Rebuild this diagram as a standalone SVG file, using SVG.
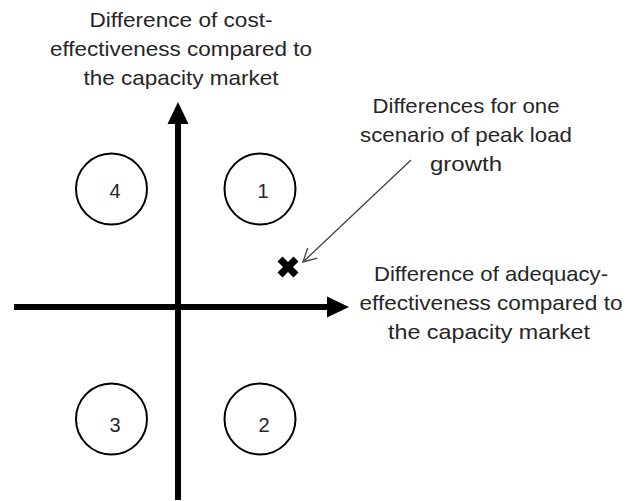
<svg xmlns="http://www.w3.org/2000/svg" width="627" height="501" viewBox="0 0 627 501">
<style>
  text { font-family: "Liberation Sans", Arial, sans-serif; fill: #262626; }
  .lbl { font-size: 21px; text-anchor: middle; }
  .num { font-size: 20px; text-anchor: middle; }
  .quad { fill: none; stroke: #000; stroke-width: 2; }
  .axis { stroke: #000; stroke-width: 6; fill: none; }
  .head { fill: #000; stroke: none; }
  .ptr { stroke: #404040; stroke-width: 1.3; fill: none; }
</style>
<defs>
  <marker id="openArrow" markerWidth="16" markerHeight="16" refX="14" refY="8" orient="auto" markerUnits="userSpaceOnUse">
    <path d="M1,1 L14,8 L1,15" fill="none" stroke="#404040" stroke-width="1.3"/>
  </marker>
</defs>
<rect width="627" height="501" fill="#fff"/>
<g id="connectors">
  <line class="axis" x1="178" y1="500" x2="178" y2="118"/>
  <polygon class="head" points="178,102 167.5,124 188.5,124"/>
  <line class="axis" x1="14" y1="307" x2="332" y2="307"/>
  <polygon class="head" points="349,307 327,296.5 327,317.5"/>
  <line class="ptr" x1="411" y1="160" x2="303" y2="262" marker-end="url(#openArrow)"/>
</g>
<g id="y-axis-label">
  <text class="lbl" x="181" y="27" textLength="183" lengthAdjust="spacingAndGlyphs">Difference of cost-</text>
  <text class="lbl" x="181" y="56" textLength="262" lengthAdjust="spacingAndGlyphs">effectiveness compared to</text>
  <text class="lbl" x="181" y="85" textLength="195" lengthAdjust="spacingAndGlyphs">the capacity market</text>
</g>
<g id="x-axis-label">
  <text class="lbl" x="491" y="281" textLength="234" lengthAdjust="spacingAndGlyphs">Difference of adequacy-</text>
  <text class="lbl" x="491" y="310" textLength="263" lengthAdjust="spacingAndGlyphs">effectiveness compared to</text>
  <text class="lbl" x="489" y="339" textLength="202" lengthAdjust="spacingAndGlyphs">the capacity market</text>
</g>
<g id="scenario-label">
  <text class="lbl" x="466" y="113" textLength="187" lengthAdjust="spacingAndGlyphs">Differences for one</text>
  <text class="lbl" x="466" y="142" textLength="212" lengthAdjust="spacingAndGlyphs">scenario of peak load</text>
  <text class="lbl" x="466" y="171" textLength="72" lengthAdjust="spacingAndGlyphs">growth</text>
</g>
<g id="quadrant-1">
  <circle class="quad" cx="260" cy="189" r="35.5"/>
  <text class="num" x="263" y="198">1</text>
</g>
<g id="quadrant-2">
  <circle class="quad" cx="260" cy="419" r="35.5"/>
  <text class="num" x="264" y="432">2</text>
</g>
<g id="quadrant-3">
  <circle class="quad" cx="111.5" cy="419" r="35.5"/>
  <text class="num" x="115" y="432">3</text>
</g>
<g id="quadrant-4">
  <circle class="quad" cx="111.5" cy="189" r="35.5"/>
  <text class="num" x="115" y="198">4</text>
</g>
<g id="scenario-point">
  <line x1="280" y1="259" x2="296" y2="275" stroke="#000" stroke-width="7"/>
  <line x1="296" y1="259" x2="280" y2="275" stroke="#000" stroke-width="7"/>
</g>
</svg>
